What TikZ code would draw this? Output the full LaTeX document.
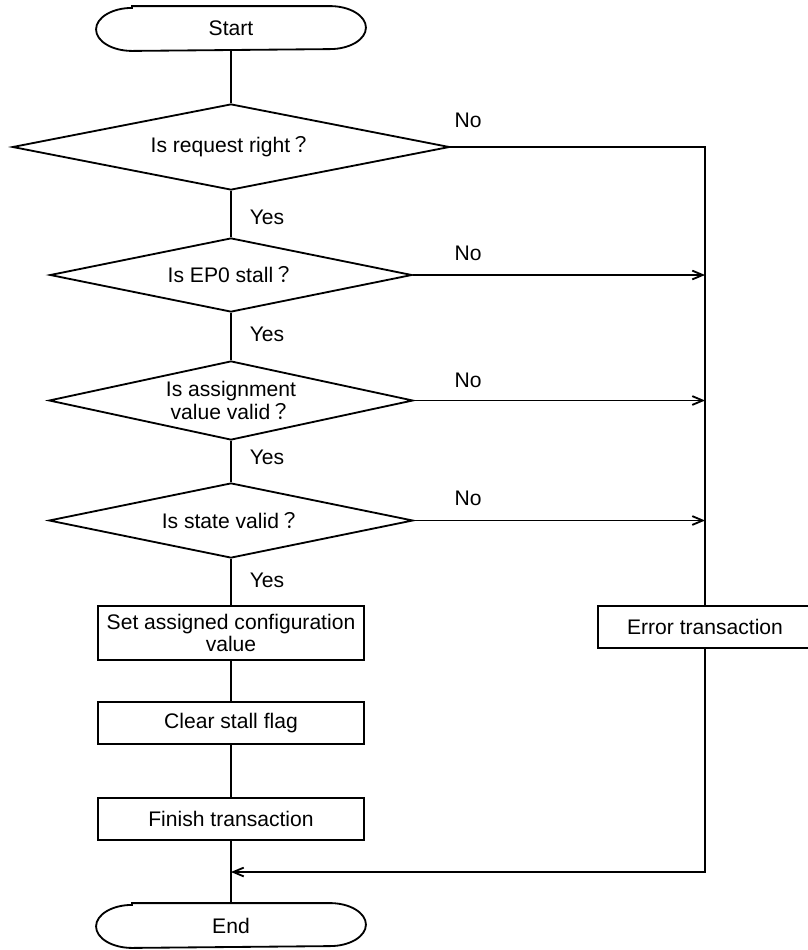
\documentclass[tikz,border=0pt]{standalone}
\usepackage{fontspec}
\setmainfont{Liberation Sans}
\newfontfamily\cjkfont{Noto Sans CJK JP}
\usepackage{tikz}
\usetikzlibrary{
arrows.meta,
shapes.geometric,
calc
}
\newcommand{\qmark}{{\cjkfont ？}}

\begin{document}
\begin{tikzpicture}[
  x=0.025cm, y=-0.025cm,
  >={Straight Barb[length=2.6mm, width=2.2mm]},
  line width=1.3pt,
  every node/.style={font=\fontsize{15}{16}\selectfont},
  terminal/.style={minimum width=6.7cm, minimum height=1.075cm, inner sep=0pt},
  decision/.style={diamond, draw, aspect=5, inner sep=0pt, align=center},
  process/.style={draw, minimum width=6.65cm, inner sep=0pt, align=center},
  lbl/.style={inner sep=0pt}
]
\useasboundingbox (0,0) rectangle (808,950);

%% Main column
\node[terminal] (start) at (231,28.5) {Start};
\node[decision, minimum width=10.925cm, minimum height=2.15cm] (req)
  at (231,147) {Is request right\qmark};
\node[decision, minimum width=9.05cm, minimum height=1.85cm] (stall)
  at (231,275) {Is EP0 stall\qmark};
\node[decision, minimum width=9.1cm, minimum height=1.975cm] (assign)
  at (231,400.5) {Is assignment\\value valid\qmark};
\node[decision, minimum width=9.1cm, minimum height=1.875cm] (state)
  at (231,520.5) {Is state valid\qmark};
\node[process, minimum height=1.35cm] (setcfg)
  at (231,633) {Set assigned configuration\\value};
\node[process, minimum height=1.05cm] (clear)
  at (231,723) {Clear stall flag};
\node[process, minimum height=1.05cm] (finish)
  at (231,819) {Finish transaction};
\node[terminal] (stop) at (231,925.5) {End};

%% Error branch
\node[process, minimum width=5.35cm, minimum height=1.05cm] (err)
  at (705,627) {Error transaction};
\coordinate (merge) at (231,872);

%% Terminal outlines
\foreach \t in {start, stop}
  \draw ([xshift=0.9cm]\t.north west) -- ([xshift=-0.9cm]\t.north east)
    arc[start angle=90, end angle=-90, x radius=0.9cm, y radius=0.5375cm]
    -- ([xshift=0.9cm]\t.south west)
    arc[start angle=270, end angle=90, x radius=0.9cm, y radius=0.5375cm]
    -- cycle;

%% Labels
\foreach \i/\y in {1/217, 2/334, 3/457, 4/580}
  \node[lbl] (yes\i) at (267,\y) {Yes};
\foreach \i/\y in {1/120, 2/253, 3/380, 4/498}
  \node[lbl] (no\i) at (468,\y) {No};

%% Connectors
\draw (start.south) -- (req.north);
\draw (req.south) -- (stall.north);
\draw (stall.south) -- (assign.north);
\draw (assign.south) -- (state.north);
\draw (state.south) -- (setcfg.north);
\draw (setcfg.south) -- (clear.north);
\draw (clear.south) -- (finish.north);
\draw (finish.south) -- (stop.north);

\draw (req.east) -- (req.east -| err.north) -- (err.north);
\foreach \n in {stall, assign, state}
  \draw[->] (\n.east) -- (\n.east -| err.north);
\draw[->] (err.south) |- (merge);

\end{tikzpicture}
\end{document}
